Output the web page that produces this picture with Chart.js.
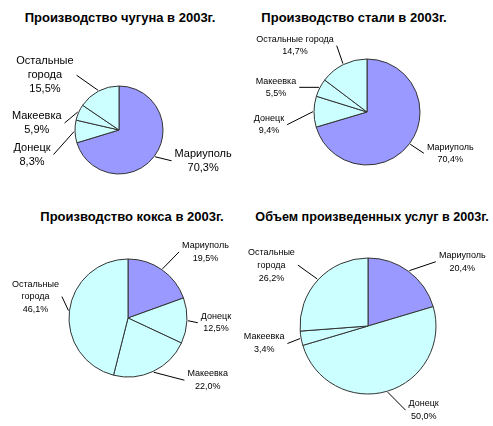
<!DOCTYPE html>
<html>
<head>
<meta charset="utf-8">
<script src="https://cdn.jsdelivr.net/npm/chart.js@4/dist/chart.umd.min.js"></script>
<style>
  body { margin: 0; background: #fff; width: 493px; height: 426px; position: relative; overflow: hidden; }
  canvas { position: absolute; }
  .title { position: absolute; width: 300px; text-align: center; font: bold 13px "Liberation Sans", Arial, sans-serif; line-height: 16px; color: #000; white-space: nowrap; }
</style>
</head>
<body>
<div class="title" style="left:-30px; top:10px;">Производство чугуна в 2003г.</div>
<div class="title" style="left:204px; top:10px;">Производство стали в 2003г.</div>
<div class="title" style="left:-18px; top:209px;">Производство кокса в 2003г.</div>
<div class="title" style="left:222px; top:209px; font-size:12.6px;">Объем произведенных услуг в 2003г.</div>

<canvas id="iron" width="230" height="190" style="left:4px; top:35px;"></canvas>
<canvas id="steel" width="240" height="200" style="left:247px; top:12px;"></canvas>
<canvas id="coke" width="240" height="180" style="left:8px; top:228px;"></canvas>
<canvas id="services" width="260" height="190" style="left:238px; top:231px;"></canvas>

<script>
// shares by city, % (2003)
const cities = ['Мариуполь', 'Донецк', 'Макеевка', 'Остальные города'];
const ironShare = [70.3, 8.3, 5.9, 15.5];
const steelShare = [70.4, 9.4, 5.5, 14.7];
const cokeShare = [19.5, 12.5, 22.0, 46.1];
const servicesShare = [20.4, 50.0, 3.4, 26.2];

const sliceColors = ['#9999ff', '#ccffff', '#ccffff', '#ccffff'];

const fmt = v => v.toFixed(1).replace('.', ',') + '%';

// labels sit next to the slice edge, nudged like the excel layout
const pieLabels = {
  id: 'pieLabels',
  afterDatasetsDraw(chart) {
    const o = chart.options.plugins.pieLabels;
    const ctx = chart.ctx;
    const meta = chart.getDatasetMeta(0);
    ctx.save();
    ctx.font = o.fontSize + 'px "Liberation Sans", Arial, sans-serif';
    ctx.fillStyle = '#000';
    ctx.strokeStyle = '#000';
    ctx.lineWidth = 1;
    ctx.textAlign = 'center';
    ctx.textBaseline = 'middle';
    meta.data.forEach((arc, i) => {
      const p = arc.getProps(['x', 'y', 'startAngle', 'endAngle', 'outerRadius'], true);
      const mid = (p.startAngle + p.endAngle) / 2;
      const ex = p.x + Math.cos(mid) * (p.outerRadius + 1);
      const ey = p.y + Math.sin(mid) * (p.outerRadius + 1);
      const off = o.offsets[i];
      const cx = ex + off[0], cy = ey + off[1];

      let name = chart.data.labels[i];
      let lines = o.wrap ? name.split(' ') : [name];
      lines = lines.concat([fmt(chart.data.datasets[0].data[i])]);
      const w = Math.max(...lines.map(s => ctx.measureText(s).width));
      const top = cy - (lines.length - 1) * o.lineHeight / 2;
      lines.forEach((s, k) => ctx.fillText(s, cx, top + k * o.lineHeight));

      const lx = off[0] > 0 ? cx - w / 2 - 3 : cx + w / 2 + 3;
      ctx.beginPath();
      ctx.moveTo(ex, ey);
      ctx.lineTo(lx, cy);
      ctx.stroke();
    });
    ctx.restore();
  }
};

function createPie(domId, values, radius, labelOpts) {
  const c = document.getElementById(domId).getContext('2d');
  return new Chart(c, {
    type: 'pie',
    data: {
      labels: cities,
      datasets: [{
        data: values,
        backgroundColor: sliceColors,
        borderColor: '#333',
        borderWidth: 1
      }]
    },
    options: {
      responsive: false,
      animation: false,
      radius: radius,
      plugins: {
        legend: { display: false },
        tooltip: { enabled: false },
        pieLabels: labelOpts
      }
    },
    plugins: [pieLabels]
  });
}

createPie('iron', ironShare, 44, {
  fontSize: 11, lineHeight: 14, wrap: true,
  offsets: [[48, 4], [-42, 23], [-41, 11], [-53, -15]]
});
createPie('steel', steelShare, 53, {
  fontSize: 9, lineHeight: 12, wrap: false,
  offsets: [[40, 9], [-44, 13], [-43, 0], [-48, -18]]
});
createPie('coke', cokeShare, 59, {
  fontSize: 9, lineHeight: 12.5, wrap: true,
  offsets: [[43, -17], [28, 2], [54, 8], [-33, -14]]
});
createPie('services', servicesShare, 68, {
  fontSize: 9, lineHeight: 13, wrap: true,
  offsets: [[53, -9], [36, 18], [-36, 5], [-46, -14]]
});
</script>
</body>
</html>
